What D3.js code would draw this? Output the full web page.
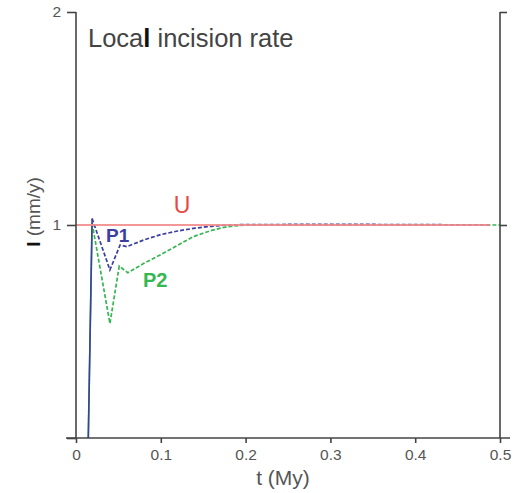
<!DOCTYPE html>
<html>
<head>
<meta charset="utf-8">
<script src="https://cdn.jsdelivr.net/npm/d3@7"></script>
<style>
  body { margin: 0; background: #fff; }
  svg { display: block; font-family: "Liberation Sans", Arial, sans-serif; }
</style>
</head>
<body>
<div id="chart"></div>
<script>
// values
var xTicks = [0, 0.1, 0.2, 0.3, 0.4, 0.5];
var yTicks = [1, 2];

var tU = [0, 0.488];
var iU = [1, 1];

var tP1 = [0.0145, 0.019, 0.040, 0.052, 0.060, 0.08, 0.10, 0.12, 0.14, 0.16, 0.178, 0.2, 0.3, 0.4, 0.49];
var iP1 = [0, 1.03, 0.789, 0.906, 0.898, 0.93, 0.955, 0.972, 0.985, 0.994, 1.0, 1.002, 1.003, 1.002, 1.0];

var tP2 = [0.0145, 0.019, 0.040, 0.051, 0.061, 0.08, 0.099, 0.12, 0.138, 0.16, 0.178, 0.2, 0.3, 0.4, 0.5];
var iP2 = [0, 1.008, 0.538, 0.807, 0.776, 0.82, 0.859, 0.905, 0.945, 0.975, 0.992, 1.0, 1.0, 1.0, 1.0];

var W = 516, H = 493;
var mLeft = 76, mRight = 500, mTop = 12, mBottom = 438;

var svg = d3.select("#chart").append("svg").attr("width", W).attr("height", H);

var x = d3.scaleLinear().domain([0, 0.5]).range([mLeft, mRight]);
var y = d3.scaleLinear().domain([0, 2]).range([mBottom, mTop]);

var axisColor = "#444";

// curves
var line = d3.line().x(function(d) { return x(d[0]); }).y(function(d) { return y(d[1]); });

function pts(ts, vs) { return ts.map(function(t, i) { return [t, vs[i]]; }); }

function drawCurve(ts, vs, color) {
    var p = pts(ts, vs);
    // steep rise drawn solid, rest dashed
    svg.append("path").datum(p.slice(0, 2)).attr("d", line)
        .attr("fill", "none").attr("stroke", color).attr("stroke-width", 1.6);
    svg.append("path").datum(p.slice(1)).attr("d", line)
        .attr("fill", "none").attr("stroke", color).attr("stroke-width", 1.7)
        .attr("stroke-dasharray", "4,2");
}
drawCurve(tP2, iP2, "#35b752");
drawCurve(tP1, iP1, "#3b3f9e");

// uplift line over the curves
svg.append("path").datum(pts(tU, iU)).attr("d", line)
    .attr("fill", "none").attr("stroke", "#f28c8c").attr("stroke-width", 2.2)
    .attr("stroke-opacity", 0.9);

// axes
var gx = svg.append("g").attr("transform", "translate(0," + mBottom + ")")
    .call(d3.axisBottom(x).tickValues(xTicks).tickSize(5).tickPadding(6)
        .tickFormat(function(d) { return d === 0 ? "0" : d3.format(".1f")(d); }));
gx.select(".domain").attr("d", "M" + (mLeft - 10) + ",0H" + (mRight + 10));

var gy = svg.append("g").attr("transform", "translate(" + mLeft + ",0)")
    .call(d3.axisLeft(y).tickValues([0, 1, 2]).tickSize(9).tickPadding(6)
        .tickFormat(function(d) { return d === 0 ? "" : d; }));
gy.select(".domain").attr("d", "M0," + mTop + "V" + mBottom);

var gr = svg.append("g").attr("transform", "translate(" + mRight + ",0)")
    .call(d3.axisRight(y).tickValues(yTicks).tickSize(7).tickFormat(""));
gr.select(".domain").attr("d", "M0," + mTop + "V" + mBottom);

svg.selectAll(".domain, .tick line").attr("stroke", axisColor).attr("stroke-width", 1.6);
svg.selectAll(".tick text").attr("fill", "#555").attr("font-size", 15.5)
    .attr("font-family", "Liberation Sans, Arial, sans-serif");

// titles and labels
svg.append("text").attr("x", 88).attr("y", 47).attr("font-size", 25.5).attr("fill", "#444")
    .html('Loca<tspan font-weight="bold" fill="#111">l</tspan> incision rate');

svg.append("text").attr("x", 283).attr("y", 485).attr("text-anchor", "middle")
    .attr("font-size", 21).attr("fill", "#555").text("t (My)");

svg.append("text").attr("transform", "translate(40,212) rotate(-90)").attr("text-anchor", "middle")
    .attr("font-size", 19).attr("fill", "#555")
    .html('<tspan font-weight="bold" fill="#111">I</tspan> (mm/y)');

svg.append("text").attr("x", x(0.125)).attr("y", 213).attr("text-anchor", "middle")
    .attr("font-size", 23).attr("fill", "#e8483f").text("U");

svg.append("text").attr("x", 106).attr("y", 242).attr("font-size", 19)
    .attr("font-weight", "bold").attr("fill", "#3b3f9e").text("P1");

svg.append("text").attr("x", 143).attr("y", 287).attr("font-size", 20)
    .attr("font-weight", "bold").attr("fill", "#35b752").text("P2");
</script>
</body>
</html>
